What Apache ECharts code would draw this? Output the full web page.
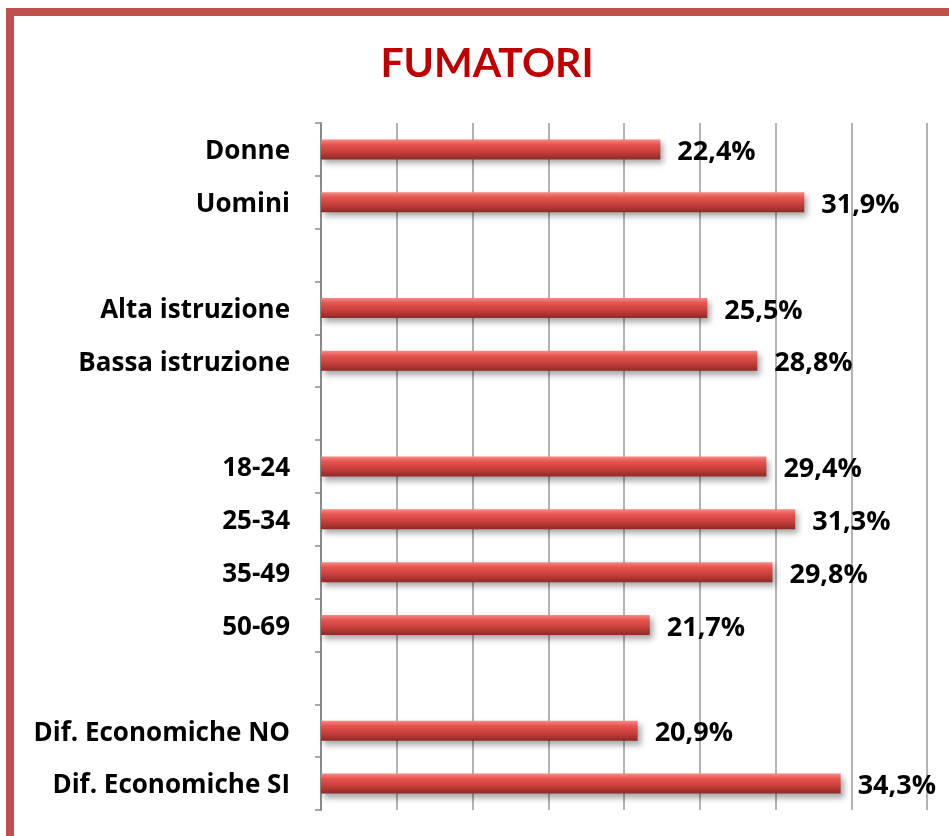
<!DOCTYPE html>
<html>
<head>
<meta charset="utf-8">
<title>Fumatori</title>
<script src="https://cdn.jsdelivr.net/npm/echarts@6/dist/echarts.min.js"></script>
<style>
  html, body { margin: 0; padding: 0; background: #fff; }
  #chart { width: 949px; height: 836px; }
</style>
</head>
<body>
<div id="chart"></div>
<script>
// empty entries are the gaps between groups
const categories = ['Donne', 'Uomini', ' ', 'Alta istruzione', 'Bassa istruzione', '  ',
  '18-24', '25-34', '35-49', '50-69', '   ', 'Dif. Economiche NO', 'Dif. Economiche SI'];
const values = [22.4, 31.9, null, 25.5, 28.8, null, 29.4, 31.3, 29.8, 21.7, null, 20.9, 34.3];
const xTicks = [0, 5, 10, 15, 20, 25, 30, 35, 40];

const titleFont = 'Lato, sans-serif';
const font = '"Open Sans", "Noto Sans", sans-serif';
let chart = echarts.init(document.getElementById('chart'));

const barColor = new echarts.graphic.LinearGradient(0, 0, 0, 1, [
  { offset: 0, color: '#f58a86' },
  { offset: 0.25, color: '#e8544f' },
  { offset: 0.6, color: '#c9403c' },
  { offset: 1, color: '#8e2a27' }
]);

const option = {
  animation: false,
  title: {
    text: 'FUMATORI',
    left: 482,
    top: 38,
    textAlign: 'center',
    textStyle: {
      color: '#c00000',
      fontFamily: titleFont,
      fontWeight: 'bold',
      fontSize: 41
    }
  },
  graphic: [{
    type: 'rect',
    shape: { x: 10, y: 12, width: 1000, height: 900 },
    style: { fill: 'none', stroke: '#c0504d', lineWidth: 8 },
    silent: true
  }],
  grid: { left: 321, right: 22, top: 123, bottom: 26 },
  xAxis: {
    type: 'value',
    min: xTicks[0],
    max: xTicks[xTicks.length - 1],
    interval: xTicks[1] - xTicks[0],
    axisLabel: { show: false },
    axisLine: { show: false },
    axisTick: { show: false },
    splitLine: { lineStyle: { color: '#9a9a9a', width: 1.5 } }
  },
  yAxis: {
    type: 'category',
    data: categories,
    inverse: true,
    axisLine: { lineStyle: { color: '#8a8a8a', width: 2 } },
    axisTick: { show: true, length: 6, lineStyle: { color: '#8a8a8a', width: 1.5 } },
    axisLabel: {
      margin: 31,
      formatter: function (v) { return '{c|' + v + '}'; },
      rich: {
        c: {
          color: '#000',
          fontFamily: font,
          fontWeight: 'bold',
          fontSize: 26,
          padding: [5, 0, 0, 0]
        }
      }
    }
  },
  series: [{
    type: 'bar',
    data: values,
    barWidth: 20,
    itemStyle: {
      color: barColor,
      shadowColor: 'rgba(0,0,0,0.35)',
      shadowBlur: 6,
      shadowOffsetX: 3,
      shadowOffsetY: 4
    },
    label: {
      show: true,
      position: 'right',
      distance: 17,
      offset: [0, 3],
      color: '#000',
      fontFamily: font,
      fontWeight: 'bold',
      fontSize: 27,
      formatter: function (p) {
        return p.value == null ? '' : p.value.toFixed(1).replace('.', ',') + '%';
      }
    }
  }]
};
chart.setOption(option);
</script>
</body>
</html>
